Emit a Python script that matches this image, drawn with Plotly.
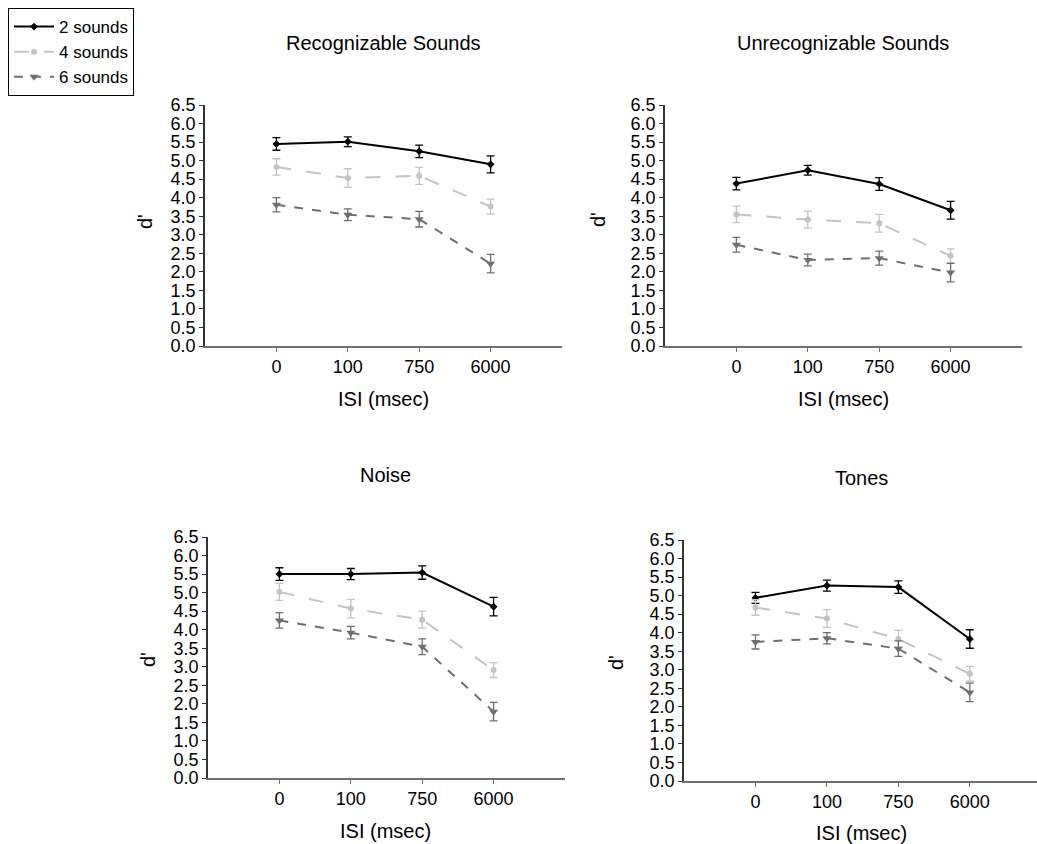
import plotly.graph_objects as go

isi_labels = ["0", "100", "750", "6000"]
series_names = ["2 sounds", "4 sounds", "6 sounds"]

# Recognizable Sounds
rec_2 = [5.45, 5.51, 5.25, 4.90]
rec_2_err = [0.17, 0.13, 0.17, 0.23]
rec_4 = [4.83, 4.53, 4.59, 3.76]
rec_4_err = [0.22, 0.25, 0.23, 0.20]
rec_6 = [3.81, 3.54, 3.42, 2.22]
rec_6_err = [0.19, 0.16, 0.21, 0.25]

# Unrecognizable Sounds
unr_2 = [4.38, 4.74, 4.37, 3.66]
unr_2_err = [0.17, 0.13, 0.17, 0.24]
unr_4 = [3.55, 3.41, 3.31, 2.43]
unr_4_err = [0.22, 0.23, 0.24, 0.19]
unr_6 = [2.73, 2.32, 2.37, 1.98]
unr_6_err = [0.20, 0.16, 0.19, 0.25]

# Noise
noi_2 = [5.50, 5.50, 5.54, 4.62]
noi_2_err = [0.17, 0.15, 0.18, 0.25]
noi_4 = [5.02, 4.57, 4.27, 2.91]
noi_4_err = [0.23, 0.25, 0.23, 0.20]
noi_6 = [4.25, 3.92, 3.54, 1.79]
noi_6_err = [0.21, 0.17, 0.21, 0.25]

# Tones
ton_2 = [4.94, 5.27, 5.23, 3.83]
ton_2_err = [0.15, 0.15, 0.17, 0.25]
ton_4 = [4.68, 4.38, 3.83, 2.89]
ton_4_err = [0.21, 0.24, 0.23, 0.20]
ton_6 = [3.75, 3.85, 3.57, 2.39]
ton_6_err = [0.19, 0.15, 0.21, 0.25]

panel_titles = ["Recognizable Sounds", "Unrecognizable Sounds", "Noise", "Tones"]
panels = [
    [(rec_2, rec_2_err), (rec_4, rec_4_err), (rec_6, rec_6_err)],
    [(unr_2, unr_2_err), (unr_4, unr_4_err), (unr_6, unr_6_err)],
    [(noi_2, noi_2_err), (noi_4, noi_4_err), (noi_6, noi_6_err)],
    [(ton_2, ton_2_err), (ton_4, ton_4_err), (ton_6, ton_6_err)],
]

W, H = 1037, 844
FONT = "Liberation Sans, Arial, sans-serif"

styles = [
    dict(color="#000000", dash="solid", symbol="diamond", msize=6),
    dict(color="#c3c3c3", dash="longdash", symbol="circle", msize=6),
    dict(color="#6e6e6e", dash="dash", symbol="triangle-down", msize=8),
]

# panel geometry in pixels: (left, right, top, bottom), x range right end
geo = [
    (205, 562, 105, 346, 4.0),
    (665, 1022, 105, 346, 4.0),
    (208, 565, 537, 778, 4.0),
    (684, 1037, 540, 781, 3.94),
]
title_pos = [(383, 43), (843, 43), (385, 475), (861, 478)]
xlab_pos = [(383, 399), (843, 399), (385, 831), (861, 833)]
ylab_pos = [(145, 222), (598, 220), (148, 660), (616, 663)]

fig = go.Figure()
xs = list(range(len(isi_labels)))

for p, series in enumerate(panels):
    xa = "x" if p == 0 else f"x{p+1}"
    ya = "y" if p == 0 else f"y{p+1}"
    for s, (vals, errs) in enumerate(series):
        st = styles[s]
        fig.add_trace(go.Scatter(
            x=xs, y=vals, xaxis=xa, yaxis=ya,
            mode="lines+markers",
            name=series_names[s],
            legendgroup=series_names[s],
            showlegend=(p == 0),
            line=dict(color=st["color"], dash=st["dash"], width=2),
            marker=dict(color=st["color"], symbol=st["symbol"], size=st["msize"]),
            error_y=dict(type="data", array=errs, color=st["color"],
                         thickness=1.3, width=4),
        ))

layout = dict(
    width=W, height=H,
    margin=dict(l=0, r=0, t=0, b=0, pad=0, autoexpand=False),
    paper_bgcolor="white", plot_bgcolor="white",
    font=dict(family=FONT, size=18, color="#000000"),
    legend=dict(x=8 / W, y=1 - 8 / H, xanchor="left", yanchor="top",
                bordercolor="#000000", borderwidth=1,
                font=dict(size=17), tracegroupgap=0, itemwidth=40),
    annotations=[],
)

for p in range(4):
    l, r, t, b, xr = geo[p]
    xk = "xaxis" if p == 0 else f"xaxis{p+1}"
    yk = "yaxis" if p == 0 else f"yaxis{p+1}"
    ya = "y" if p == 0 else f"y{p+1}"
    xa = "x" if p == 0 else f"x{p+1}"
    layout[xk] = dict(
        domain=[l / W, min(r / W, 1.0)], anchor=ya,
        range=[-1, xr], tickvals=xs, ticktext=isi_labels,
        showline=True, linecolor="#6f6f6f", linewidth=1.5,
        ticks="outside", ticklen=4, tickcolor="#6f6f6f",
        showgrid=False, zeroline=False, tickfont=dict(size=18),
        automargin=False,
    )
    layout[yk] = dict(
        domain=[1 - b / H, 1 - t / H], anchor=xa,
        range=[0, 6.5], dtick=0.5, tick0=0, tickformat=".1f",
        showline=True, linecolor="#333333", linewidth=1.5,
        ticks="outside", ticklen=4, tickcolor="#333333",
        showgrid=False, zeroline=False, tickfont=dict(size=18),
        automargin=False,
    )
    tx, ty = title_pos[p]
    layout["annotations"].append(dict(
        text=panel_titles[p], x=tx / W, y=1 - ty / H, xref="paper", yref="paper",
        showarrow=False, xanchor="center", yanchor="middle", font=dict(size=20)))
    lx, ly = xlab_pos[p]
    layout["annotations"].append(dict(
        text="ISI (msec)", x=lx / W, y=1 - ly / H, xref="paper", yref="paper",
        showarrow=False, xanchor="center", yanchor="middle", font=dict(size=20)))
    dx, dy = ylab_pos[p]
    layout["annotations"].append(dict(
        text="d'", x=dx / W, y=1 - dy / H, xref="paper", yref="paper",
        showarrow=False, xanchor="center", yanchor="middle", textangle=-90,
        font=dict(size=20)))

fig.update_layout(**layout)
fig.write_html("out.html")
